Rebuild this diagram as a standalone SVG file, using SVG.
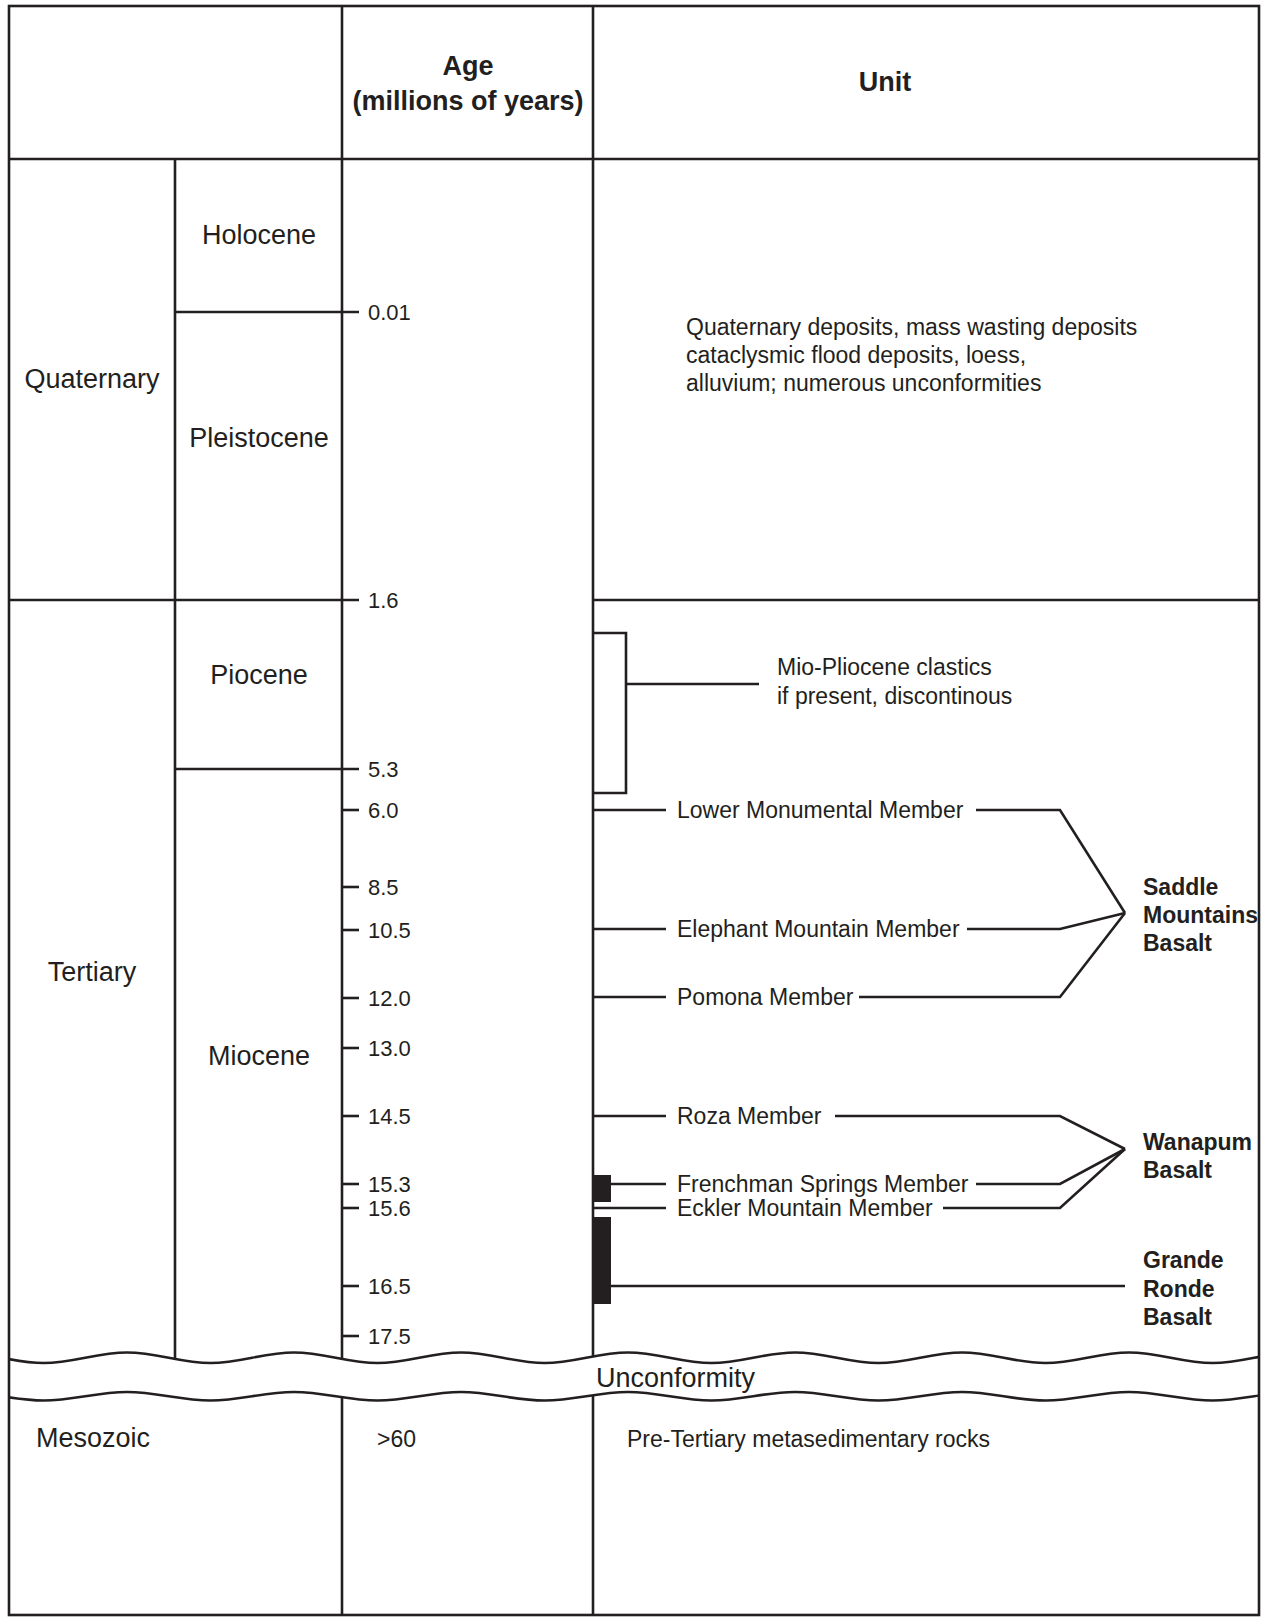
<svg xmlns="http://www.w3.org/2000/svg" width="1264" height="1617" viewBox="0 0 1264 1617">
<defs>
<style>
.ln{stroke:#231f20;stroke-width:2.6;fill:none}
.t{font-family:"Liberation Sans",Arial,sans-serif;fill:#231f20}
.big{font-size:27px}
.hd{font-size:27px;font-weight:bold}
.md{font-size:23px}
.tk{font-size:22px}
.bd{font-size:23px;font-weight:bold}
.mid{text-anchor:middle}
</style>
<clipPath id="box"><rect x="9" y="0" width="1250" height="1617"/></clipPath>
</defs>
<rect x="0" y="0" width="1264" height="1617" fill="#fff"/>

<g id="grid">
<rect class="ln" x="9" y="6" width="1250" height="1609"/>
<line class="ln" x1="9" y1="159" x2="1259" y2="159"/>
<line class="ln" x1="342" y1="6" x2="342" y2="1359"/>
<line class="ln" x1="593" y1="6" x2="593" y2="1357"/>
<line class="ln" x1="175" y1="159" x2="175" y2="1359"/>
<line class="ln" x1="342" y1="1397" x2="342" y2="1615"/>
<line class="ln" x1="593" y1="1395" x2="593" y2="1615"/>
<line class="ln" x1="175" y1="312" x2="359" y2="312"/>
<line class="ln" x1="9" y1="600" x2="359" y2="600"/>
<line class="ln" x1="593" y1="600" x2="1259" y2="600"/>
<line class="ln" x1="175" y1="769" x2="359" y2="769"/>
</g>

<g id="ticks">
<line class="ln" x1="342" y1="810" x2="359" y2="810"/>
<line class="ln" x1="342" y1="887" x2="359" y2="887"/>
<line class="ln" x1="342" y1="930" x2="359" y2="930"/>
<line class="ln" x1="342" y1="998" x2="359" y2="998"/>
<line class="ln" x1="342" y1="1048" x2="359" y2="1048"/>
<line class="ln" x1="342" y1="1116" x2="359" y2="1116"/>
<line class="ln" x1="342" y1="1184" x2="359" y2="1184"/>
<line class="ln" x1="342" y1="1208" x2="359" y2="1208"/>
<line class="ln" x1="342" y1="1286" x2="359" y2="1286"/>
<line class="ln" x1="342" y1="1336" x2="359" y2="1336"/>
</g>

<g id="tick-labels" class="t tk">
<text x="368" y="320">0.01</text>
<text x="368" y="608">1.6</text>
<text x="368" y="777">5.3</text>
<text x="368" y="818">6.0</text>
<text x="368" y="895">8.5</text>
<text x="368" y="938">10.5</text>
<text x="368" y="1006">12.0</text>
<text x="368" y="1056">13.0</text>
<text x="368" y="1124">14.5</text>
<text x="368" y="1192">15.3</text>
<text x="368" y="1216">15.6</text>
<text x="368" y="1294">16.5</text>
<text x="368" y="1344">17.5</text>
</g>

<g id="header">
<text class="t hd mid" x="468" y="75">Age</text>
<text class="t hd mid" x="468" y="110">(millions of years)</text>
<text class="t hd mid" x="885" y="91">Unit</text>
</g>

<g id="periods" class="t big mid">
<text x="92" y="388">Quaternary</text>
<text x="92" y="981">Tertiary</text>
<text x="93" y="1447">Mesozoic</text>
</g>

<g id="epochs" class="t big mid">
<text x="259" y="244">Holocene</text>
<text x="259" y="447">Pleistocene</text>
<text x="259" y="684">Piocene</text>
<text x="259" y="1065">Miocene</text>
</g>

<g id="unconformity">
<g clip-path="url(#box)">
<path class="ln" d="M -40 1352.5 C -9.6 1352.5 13.1 1363 43.5 1363 S 96.6 1352.5 127 1352.5 S 180.1 1363 210.5 1363 S 263.6 1352.5 294 1352.5 S 347.1 1363 377.5 1363 S 430.6 1352.5 461 1352.5 S 514.1 1363 544.5 1363 S 597.6 1352.5 628 1352.5 S 681.1 1363 711.5 1363 S 764.6 1352.5 795 1352.5 S 848.1 1363 878.5 1363 S 931.6 1352.5 962 1352.5 S 1015.1 1363 1045.5 1363 S 1098.6 1352.5 1129 1352.5 S 1182.1 1363 1212.5 1363 S 1265.6 1352.5 1296 1352.5"/>
<path class="ln" d="M -40 1392 C -9.6 1392 13.1 1400.5 43.5 1400.5 S 96.6 1392 127 1392 S 180.1 1400.5 210.5 1400.5 S 263.6 1392 294 1392 S 347.1 1400.5 377.5 1400.5 S 430.6 1392 461 1392 S 514.1 1400.5 544.5 1400.5 S 597.6 1392 628 1392 S 681.1 1400.5 711.5 1400.5 S 764.6 1392 795 1392 S 848.1 1400.5 878.5 1400.5 S 931.6 1392 962 1392 S 1015.1 1400.5 1045.5 1400.5 S 1098.6 1392 1129 1392 S 1182.1 1400.5 1212.5 1400.5 S 1265.6 1392 1296 1392"/>
</g>
<text class="t big" x="596" y="1387">Unconformity</text>
</g>

<g id="mesozoic-units" class="t md">
<text x="377" y="1447">&gt;60</text>
<text x="627" y="1447">Pre-Tertiary metasedimentary rocks</text>
</g>

<g id="quaternary-unit" class="t md">
<text x="686" y="335">Quaternary deposits, mass wasting deposits</text>
<text x="686" y="363">cataclysmic flood deposits, loess,</text>
<text x="686" y="391">alluvium; numerous unconformities</text>
</g>

<g id="mio-pliocene" class="t md">
<text x="777" y="675">Mio-Pliocene clastics</text>
<text x="777" y="704">if present, discontinous</text>
</g>

<g id="members" class="t md">
<text x="677" y="818">Lower Monumental Member</text>
<text x="677" y="937">Elephant Mountain Member</text>
<text x="677" y="1005">Pomona Member</text>
<text x="677" y="1124">Roza Member</text>
<text x="677" y="1192">Frenchman Springs Member</text>
<text x="677" y="1216">Eckler Mountain Member</text>
</g>

<g id="formations" class="t bd">
<text x="1143" y="895">Saddle</text>
<text x="1143" y="923">Mountains</text>
<text x="1143" y="951">Basalt</text>
<text x="1143" y="1150">Wanapum</text>
<text x="1143" y="1178">Basalt</text>
<text x="1143" y="1268">Grande</text>
<text x="1143" y="1297">Ronde</text>
<text x="1143" y="1325">Basalt</text>
</g>

<g id="basalt-bars" fill="#231f20">
<rect x="593" y="1175" width="18" height="27"/>
<rect x="593" y="1217" width="18" height="87"/>
</g>

<g id="connectors">
<polyline class="ln" points="593,633 626,633 626,793 593,793"/>
<line class="ln" x1="626" y1="684" x2="759" y2="684"/>
<line class="ln" x1="593" y1="810" x2="666" y2="810"/>
<polyline class="ln" points="976,810 1060,810 1125,913"/>
<line class="ln" x1="593" y1="929" x2="666" y2="929"/>
<polyline class="ln" points="967,929 1060,929 1125,913"/>
<line class="ln" x1="593" y1="997" x2="666" y2="997"/>
<polyline class="ln" points="859,997 1060,997 1125,913"/>
<line class="ln" x1="593" y1="1116" x2="666" y2="1116"/>
<polyline class="ln" points="835,1116 1060,1116 1125,1149"/>
<line class="ln" x1="610" y1="1184" x2="666" y2="1184"/>
<polyline class="ln" points="976,1184 1060,1184 1125,1149"/>
<line class="ln" x1="593" y1="1208" x2="666" y2="1208"/>
<polyline class="ln" points="943,1208 1060,1208 1125,1149"/>
<line class="ln" x1="610" y1="1286" x2="1125" y2="1286"/>
</g>
</svg>
